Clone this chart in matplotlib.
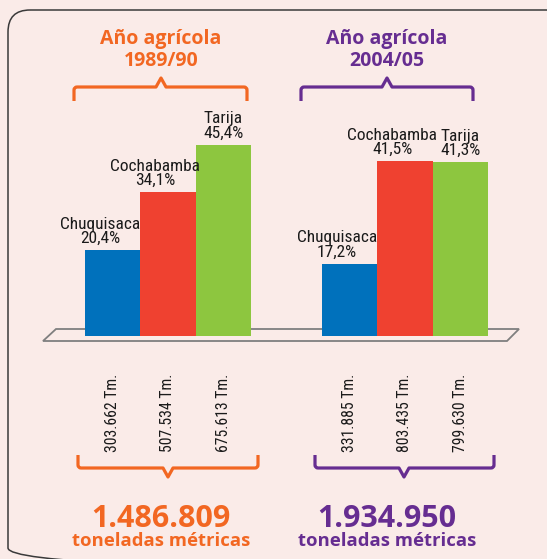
import matplotlib
matplotlib.use('Agg')
import matplotlib.pyplot as plt
from matplotlib.path import Path
from matplotlib.patches import PathPatch, FancyBboxPatch, Polygon

regions = ['Chuquisaca', 'Cochabamba', 'Tarija']
pct_1989 = [20.4, 34.1, 45.4]
pct_2004 = [17.2, 41.5, 41.3]
tm_1989 = ['303.662', '507.534', '675.613']
tm_2004 = ['331.885', '803.435', '799.630']
periods = ['1989/90', '2004/05']
totals = ['1.486.809', '1.934.950']

bar_colors = ['#0071BC', '#EF4130', '#8DC63F']
orange = '#F26722'
purple = '#662D91'
bg = '#FAEBE8'

W, H = 547, 559
fig = plt.figure(figsize=(W / 100, H / 100), dpi=100, facecolor=bg)

# overlay in pixel units for decorations
ov = fig.add_axes([0, 0, 1, 1], zorder=0)
ov.set_xlim(0, W)
ov.set_ylim(H, 0)
ov.axis('off')

box = FancyBboxPatch((8, 10), 560, 560, boxstyle='round,pad=0,rounding_size=22',
                     fc='none', ec='#3a3a3a', lw=1.1)
ov.add_patch(box)

floor = Polygon([(56, 329), (519, 329), (507, 341), (43, 341)], closed=True,
                fc='none', ec='#7f7f7f', lw=1.3)
ov.add_patch(floor)


def brace(x0, x1, xc, y, tip, end, color):
    # y: horizontal line, tip: y of point, end: y of the two ends
    r = 3 if end > y else -3
    verts = [(x0, end), (x0, y + r), (x0, y), (x0 + 3, y), (xc - 5, y), (xc, tip),
             (xc + 5, y), (x1 - 3, y), (x1, y), (x1, y + r), (x1, end)]
    codes = [Path.MOVETO, Path.LINETO, Path.CURVE3, Path.CURVE3, Path.LINETO, Path.LINETO,
             Path.LINETO, Path.LINETO, Path.CURVE3, Path.CURVE3, Path.LINETO]
    ov.add_patch(PathPatch(Path(verts, codes), fc='none', ec=color, lw=2.3,
                           joinstyle='round', capstyle='butt'))


brace(74, 247, 161, 87, 78, 101, orange)
brace(301, 473, 387, 87, 78, 101, purple)
brace(78, 258, 168, 468, 477, 455, orange)
brace(315, 494, 404, 468, 477, 455, purple)

title_font = 'Open Sans'
for xc, per, col in [(161, periods[0], orange), (387, periods[1], purple)]:
    ov.text(xc, 44, 'Año agrícola', ha='center', va='baseline', color=col,
            fontsize=14, fontweight='bold', family=title_font)
    ov.text(xc, 66, per, ha='center', va='baseline', color=col,
            fontsize=14, fontweight='bold', family=title_font)

for xc, tot, col in [(161, totals[0], orange), (387, totals[1], purple)]:
    ov.text(xc, 527, tot, ha='center', va='baseline', color=col,
            fontsize=22, fontweight='bold', family=title_font)
    ov.text(xc, 546, 'toneladas métricas', ha='center', va='baseline', color=col,
            fontsize=13.3, fontweight='bold', family=title_font)

# bars
unit = 55.5
x0 = 112.5
base_px = 336
top_px = 100
px_per_pct = 4.21
ax = fig.add_axes([0, (H - base_px) / H, 1, (base_px - top_px) / H], zorder=1)
ax.set_xlim(-x0 / unit, (W - x0) / unit)
ax.set_ylim(0, (base_px - top_px) / px_per_pct)
ax.axis('off')
ax.patch.set_alpha(0)

narrow = ['DejaVu Sans Condensed', 'Liberation Sans Narrow', 'Roboto Condensed', 'Lato']
label_shift = [-9, -9, 0]
group_x = [[0, 1, 2], [4.27, 5.27, 6.27]]
for gx, pcts, tms in zip(group_x, [pct_1989, pct_2004], [tm_1989, tm_2004]):
    ax.bar(gx, pcts, width=1.0, color=bar_colors, edgecolor='none')
    for x, v, name, t, dx in zip(gx, pcts, regions, tms, label_shift):
        lab = name + '\n' + f'{v:.1f}'.replace('.', ',') + '%'
        ax.annotate(lab, (x, v), xytext=(dx, 3), textcoords='offset points',
                    ha='center', va='bottom', fontsize=12.5, family=narrow,
                    stretch='condensed', linespacing=0.95, color='#1a1a1a')
        ax.annotate(t + ' Tm.', (x, 0), xytext=(0, -83.5), textcoords='offset points',
                    ha='center', va='bottom', rotation=90, fontsize=11.3,
                    family=narrow, stretch='condensed', color='#1a1a1a',
                    annotation_clip=False)

fig.savefig('out.png', dpi=100, facecolor=bg)
